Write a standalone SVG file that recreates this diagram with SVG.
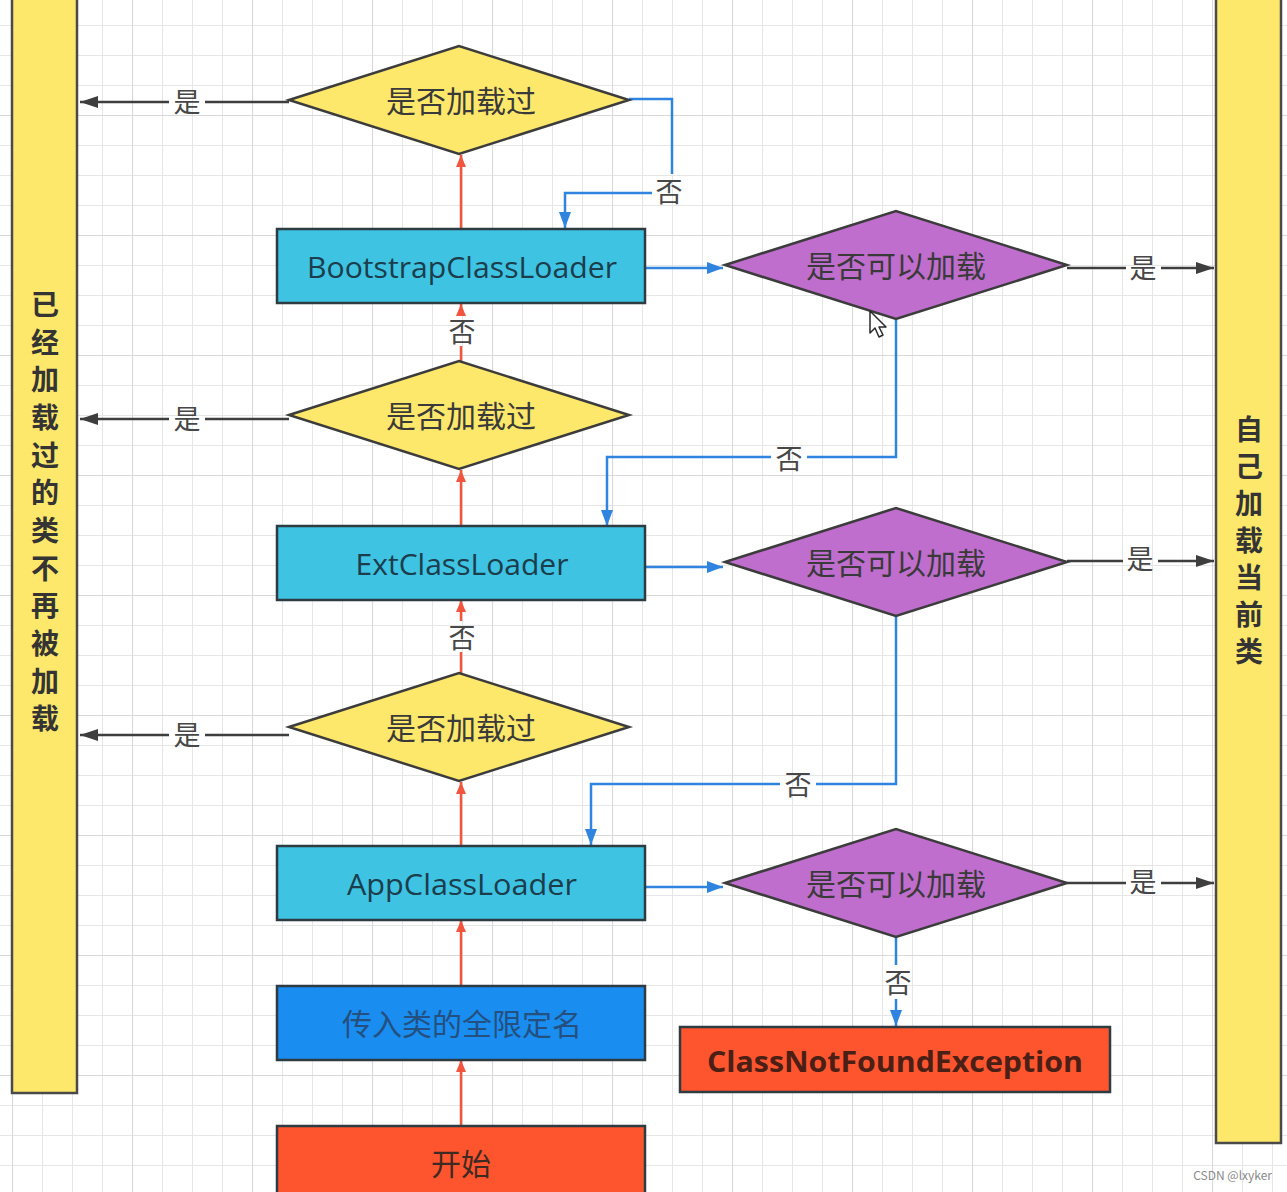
<svg xmlns="http://www.w3.org/2000/svg" width="1287" height="1192" viewBox="0 0 1287 1192">
  <style>
    .cn { font-family: "Noto Sans CJK SC", "Noto Sans", sans-serif; }
    .lat { font-family: "Open Sans", "Liberation Sans", sans-serif; }
    .edge-label { font-family: "Noto Sans CJK SC", sans-serif; font-size: 27px; fill: #474747; text-anchor: middle; dominant-baseline: central; }
    .bar { fill: #fde86b; stroke: #4a4a4a; stroke-width: 2.5; }
    .bar-text { font-family: "Noto Sans CJK SC", sans-serif; font-size: 28px; font-weight: bold; fill: #343434; text-anchor: middle; dominant-baseline: central; }
    .box { stroke: #2e3b40; stroke-width: 2.5; }
    .loader { fill: #3ec3e3; }
    .loader-text { font-family: "Open Sans", "Liberation Sans", sans-serif; font-size: 29px; fill: #1c3d4b; text-anchor: middle; dominant-baseline: central; }
    .check { fill: #fde86b; stroke: #3c3c3c; stroke-width: 2.5; }
    .can { fill: #bf6ecd; stroke: #3c3c3c; stroke-width: 2.5; }
    .shape-text { font-family: "Noto Sans CJK SC", sans-serif; font-size: 30px; fill: #3a3a3a; text-anchor: middle; dominant-baseline: central; }
    .up { stroke: #f2553d; stroke-width: 2.5; fill: none; }
    .no { stroke: #2f84df; stroke-width: 2.5; fill: none; }
    .yes { stroke: #3e3e3e; stroke-width: 2.5; fill: none; }
  </style>
  <defs>
    <pattern id="gridMinor" patternUnits="userSpaceOnUse" x="12" y="25" width="30" height="30">
      <path d="M0,0 V30 M0,0 H30" stroke="#e6e6e6" stroke-width="2" fill="none"/>
    </pattern>
    <pattern id="gridMajor" patternUnits="userSpaceOnUse" x="12" y="115" width="120" height="120">
      <path d="M0,0 V120 M0,0 H120" stroke="#d9d9d9" stroke-width="2.2" fill="none"/>
    </pattern>
    <marker id="headRed" markerUnits="userSpaceOnUse" viewBox="0 0 12 10" refX="12" refY="5" markerWidth="12" markerHeight="10" orient="auto">
      <path d="M0,0 L12,5 L0,10 z" fill="#f2553d"/>
    </marker>
    <marker id="headBlue" markerUnits="userSpaceOnUse" viewBox="0 0 16 12" refX="16" refY="6" markerWidth="16" markerHeight="12" orient="auto">
      <path d="M0,0 L16,6 L0,12 z" fill="#2f84df"/>
    </marker>
    <marker id="headBlack" markerUnits="userSpaceOnUse" viewBox="0 0 18 12" refX="18" refY="6" markerWidth="18" markerHeight="12" orient="auto">
      <path d="M0,0 L18,6 L0,12 z" fill="#3e3e3e"/>
    </marker>
  </defs>

  <!-- canvas grid -->
  <rect width="1287" height="1192" fill="#ffffff"/>
  <rect width="1287" height="1192" fill="url(#gridMinor)"/>
  <rect width="1287" height="1192" fill="url(#gridMajor)"/>

  <!-- side lanes -->
  <g id="lane-loaded">
    <rect class="bar" x="12" y="-5" width="65" height="1098"/>
    <text class="bar-text" x="45">
      <tspan x="45" y="303">已</tspan><tspan x="45" y="341">经</tspan><tspan x="45" y="378">加</tspan><tspan x="45" y="416">载</tspan><tspan x="45" y="454">过</tspan><tspan x="45" y="491">的</tspan><tspan x="45" y="529">类</tspan><tspan x="45" y="567">不</tspan><tspan x="45" y="604">再</tspan><tspan x="45" y="642">被</tspan><tspan x="45" y="680">加</tspan><tspan x="45" y="717">载</tspan>
    </text>
  </g>
  <g id="lane-self">
    <rect class="bar" x="1216" y="-5" width="65" height="1148"/>
    <text class="bar-text" x="1249">
      <tspan x="1249" y="428">自</tspan><tspan x="1249" y="465">己</tspan><tspan x="1249" y="502">加</tspan><tspan x="1249" y="539">载</tspan><tspan x="1249" y="576">当</tspan><tspan x="1249" y="613">前</tspan><tspan x="1249" y="650">类</tspan>
    </text>
  </g>

  <!-- connectors -->
  <g id="connectors">
    <!-- delegation upwards -->
    <path class="up" d="M461,1126 V1060" marker-end="url(#headRed)"/>
    <path class="up" d="M461,986 V920" marker-end="url(#headRed)"/>
    <path class="up" d="M461,846 V782" marker-end="url(#headRed)"/>
    <path class="up" d="M461,673 V652"/>
    <path class="up" d="M461,621 V600" marker-end="url(#headRed)"/>
    <text class="edge-label" x="462" y="636">否</text>
    <path class="up" d="M461,526 V470" marker-end="url(#headRed)"/>
    <path class="up" d="M461,361 V346"/>
    <path class="up" d="M461,316 V304" marker-end="url(#headRed)"/>
    <text class="edge-label" x="462" y="330">否</text>
    <path class="up" d="M461,229 V155" marker-end="url(#headRed)"/>

    <!-- already loaded: yes -->
    <path class="yes" d="M289,102 H205"/>
    <path class="yes" d="M169,102 H80" marker-end="url(#headBlack)"/>
    <text class="edge-label" x="187" y="100">是</text>
    <path class="yes" d="M289,419 H205"/>
    <path class="yes" d="M169,419 H80" marker-end="url(#headBlack)"/>
    <text class="edge-label" x="187" y="417">是</text>
    <path class="yes" d="M289,735 H205"/>
    <path class="yes" d="M169,735 H80" marker-end="url(#headBlack)"/>
    <text class="edge-label" x="187" y="733">是</text>

    <!-- can load: yes -->
    <path class="yes" d="M1067,268 H1126"/>
    <path class="yes" d="M1161,268 H1214" marker-end="url(#headBlack)"/>
    <text class="edge-label" x="1143" y="266">是</text>
    <path class="yes" d="M1067,561 H1123"/>
    <path class="yes" d="M1158,561 H1214" marker-end="url(#headBlack)"/>
    <text class="edge-label" x="1140" y="557">是</text>
    <path class="yes" d="M1067,883 H1126"/>
    <path class="yes" d="M1161,883 H1214" marker-end="url(#headBlack)"/>
    <text class="edge-label" x="1143" y="880">是</text>

    <!-- loader to can-load check -->
    <path class="no" d="M645,268 H723" marker-end="url(#headBlue)"/>
    <path class="no" d="M645,567 H723" marker-end="url(#headBlue)"/>
    <path class="no" d="M645,887 H723" marker-end="url(#headBlue)"/>

    <!-- not yet loaded at the top -->
    <path class="no" d="M629,99 H672 V174"/>
    <path class="no" d="M652,193 H565 V228" marker-end="url(#headBlue)"/>
    <text class="edge-label" x="669" y="190">否</text>

    <!-- cannot load: fall back to child loader -->
    <path class="no" d="M896,320 V457 H807"/>
    <path class="no" d="M771,457 H607 V526" marker-end="url(#headBlue)"/>
    <text class="edge-label" x="789" y="457">否</text>
    <path class="no" d="M896,616 V784 H816"/>
    <path class="no" d="M780,784 H591 V845" marker-end="url(#headBlue)"/>
    <text class="edge-label" x="798" y="783">否</text>
    <path class="no" d="M896,938 V965"/>
    <path class="no" d="M896,999 V1026" marker-end="url(#headBlue)"/>
    <text class="edge-label" x="898" y="981">否</text>
  </g>

  <!-- nodes -->
  <g id="check-bootstrap">
    <polygon class="check" points="289,100 459,46 629,100 459,154"/>
    <text class="shape-text" x="461" y="99">是否加载过</text>
  </g>
  <g id="bootstrap-loader">
    <rect class="box loader" x="277" y="229" width="368" height="74"/>
    <text class="loader-text" x="462" y="266" textLength="310" lengthAdjust="spacingAndGlyphs">BootstrapClassLoader</text>
  </g>
  <g id="can-bootstrap">
    <polygon class="can" points="725,265 896,211 1067,265 896,319"/>
    <text class="shape-text" x="896" y="264">是否可以加载</text>
  </g>

  <g id="check-ext">
    <polygon class="check" points="289,415 459,361 629,415 459,469"/>
    <text class="shape-text" x="461" y="414">是否加载过</text>
  </g>
  <g id="ext-loader">
    <rect class="box loader" x="277" y="526" width="368" height="74"/>
    <text class="loader-text" x="462" y="563" textLength="213" lengthAdjust="spacingAndGlyphs">ExtClassLoader</text>
  </g>
  <g id="can-ext">
    <polygon class="can" points="725,562 896,508 1067,562 896,616"/>
    <text class="shape-text" x="896" y="561">是否可以加载</text>
  </g>

  <g id="check-app">
    <polygon class="check" points="289,727 459,673 629,727 459,781"/>
    <text class="shape-text" x="461" y="726">是否加载过</text>
  </g>
  <g id="app-loader">
    <rect class="box loader" x="277" y="846" width="368" height="74"/>
    <text class="loader-text" x="462" y="883" textLength="230" lengthAdjust="spacingAndGlyphs">AppClassLoader</text>
  </g>
  <g id="can-app">
    <polygon class="can" points="725,883 896,829 1067,883 896,937"/>
    <text class="shape-text" x="896" y="882">是否可以加载</text>
  </g>

  <g id="class-name">
    <rect class="box" x="277" y="986" width="368" height="74" fill="#1a8df0"/>
    <text class="shape-text" x="462" y="1022" style="fill:#23507f" textLength="240" lengthAdjust="spacingAndGlyphs">传入类的全限定名</text>
  </g>
  <g id="start">
    <rect class="box" x="277" y="1126" width="368" height="80" fill="#fe552f"/>
    <text class="shape-text" x="461" y="1162" style="fill:#3e2a22">开始</text>
  </g>
  <g id="not-found">
    <rect class="box" x="680" y="1027" width="430" height="65" fill="#fe552f"/>
    <text class="lat" x="895" y="1060" font-size="29" font-weight="bold" fill="#4a2016" text-anchor="middle" dominant-baseline="central" textLength="376" lengthAdjust="spacingAndGlyphs">ClassNotFoundException</text>
  </g>

  <!-- mouse pointer -->
  <path d="M870,311 L870,333 L875,328 L879,337 L883,335 L879,327 L886,327 Z" fill="#ffffff" stroke="#2a2a2a" stroke-width="1.5" stroke-linejoin="round"/>

  <text class="cn" x="1272" y="1180" font-size="12" fill="#8a8a8a" text-anchor="end">CSDN @lxyker</text>
</svg>
